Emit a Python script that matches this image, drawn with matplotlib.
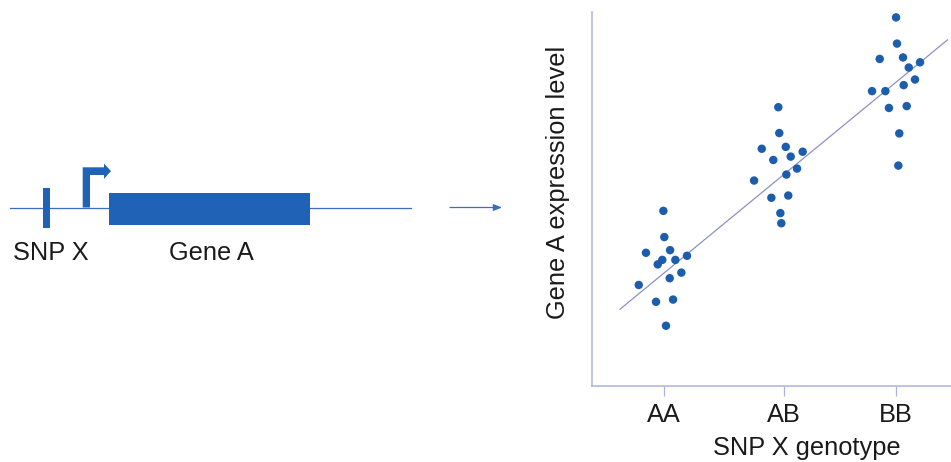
import matplotlib.pyplot as plt
import matplotlib.patches as mpatches

plt.rcParams['font.family'] = ['Liberation Sans', 'DejaVu Sans']

# genotype groups, x offsets (jitter) and expression levels
genotypes = ["AA", "AB", "BB"]
genotype_pos = [0.0, 1.0, 1.93]

aa_x = [-0.008, 0.0, -0.153, 0.048, -0.017, -0.055, 0.092, 0.189, 0.142, 0.045, -0.213, -0.069, 0.073, 0.014]
aa_y = [4.68, 3.98, 3.56, 3.63, 3.37, 3.25, 3.37, 3.48, 3.03, 2.88, 2.70, 2.25, 2.31, 1.61]

ab_x = [0.950, 0.958, 0.812, 1.012, 1.153, 0.908, 1.053, 1.106, 1.017, 0.748, 0.892, 1.033, 0.967, 0.975]
ab_y = [7.45, 6.76, 6.34, 6.39, 6.26, 6.04, 6.13, 5.81, 5.65, 5.49, 5.03, 5.09, 4.62, 4.35]

bb_x = [1.931, 1.939, 1.795, 1.989, 2.131, 2.037, 2.089, 1.995, 1.731, 1.842, 1.872, 2.020, 1.958, 1.950]
bb_y = [9.85, 9.15, 8.74, 8.78, 8.65, 8.51, 8.19, 8.04, 7.88, 7.88, 7.43, 7.48, 6.75, 5.89]

# trend line end points
fit_x = [-0.37, 2.36]
fit_y = [2.05, 9.25]

# gene schematic (pixel units of the figure)
dna_line = (10, 411, 207.5)
snp_bar = (42.7, 188, 7.3, 40)
gene_box = (109, 193.3, 201, 31.7)
stem_left, stem_w = 82.7, 7.3
arm_top, arm_h = 167.3, 7.7
head_base, head_tip, head_half = 104, 111, 7.6
link_arrow = (450, 502, 207.5)

blue = "#1f62b6"
dot = "#1d5dad"
axis_col = "#aab3e0"
txt = "#1a1a1a"
fs = 18.3

fig = plt.figure(figsize=(9.51, 4.62), dpi=100)

# left: the gene diagram
d = fig.add_axes([0, 0, 1, 1])
d.set_xlim(0, 951)
d.set_ylim(462, 0)
d.axis("off")

y0 = dna_line[2]
d.plot([dna_line[0], dna_line[1]], [y0, y0], color="#3d6cc4", lw=0.9, zorder=1)
d.add_patch(mpatches.Rectangle(snp_bar[:2], snp_bar[2], snp_bar[3], color=blue, lw=0, zorder=2))
d.add_patch(mpatches.Rectangle(gene_box[:2], gene_box[2], gene_box[3], color=blue, lw=0, zorder=2))
arm_mid = arm_top + arm_h / 2
promoter = [(stem_left, y0), (stem_left, arm_top), (head_base, arm_top),
            (head_base, arm_mid - head_half), (head_tip, arm_mid),
            (head_base, arm_mid + head_half), (head_base, arm_top + arm_h),
            (stem_left + stem_w, arm_top + arm_h), (stem_left + stem_w, y0)]
d.add_patch(mpatches.Polygon(promoter, closed=True, color=blue, lw=0, zorder=2))
d.annotate("", xy=(link_arrow[1], link_arrow[2]), xytext=(link_arrow[0], link_arrow[2]),
           arrowprops=dict(arrowstyle="-|>,head_length=0.5,head_width=0.2",
                           color="#3d6cc4", lw=0.9, shrinkA=0, shrinkB=0))
d.text(13, 253, "SNP X", fontsize=fs, color=txt, va="center", ha="left")
d.text(169, 253, "Gene A", fontsize=fs, color=txt, va="center", ha="left")

# right: expression by genotype
ax = fig.add_axes([0.6222, 0.1645, 0.3778, 0.810])
ax.patch.set_alpha(0)
ax.plot(fit_x, fit_y, color="#8d90c6", lw=0.9, zorder=1)
for xs, ys in [(aa_x, aa_y), (ab_x, ab_y), (bb_x, bb_y)]:
    ax.scatter(xs, ys, s=37, color=dot, edgecolors="none", zorder=2)

ax.set_xlim(-0.605, 2.389)
ax.set_ylim(0, 10)
ax.set_xticks(genotype_pos)
ax.set_xticklabels(genotypes)
ax.set_yticks([])
for side in ["top", "right"]:
    ax.spines[side].set_visible(False)
for side in ["left", "bottom"]:
    ax.spines[side].set_color(axis_col)
    ax.spines[side].set_linewidth(1.1)
ax.tick_params(axis="x", direction="out", length=7, width=0.9, color=axis_col,
               labelsize=fs, labelcolor=txt, pad=5)

ax.set_ylabel("Gene A expression level", fontsize=fs, color=txt)
ax.yaxis.set_label_coords(-0.06, 0.543)
ax.set_xlabel("SNP X genotype", fontsize=fs, color=txt)
ax.xaxis.set_label_coords(0.599, -0.133)

fig.savefig("out.png", dpi=100)
